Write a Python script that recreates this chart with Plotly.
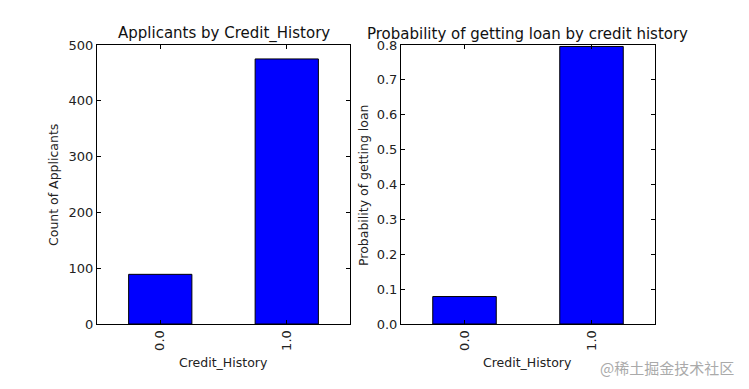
import plotly.graph_objects as go

categories = ["0.0", "1.0"]
applicant_counts = [89, 475]
loan_probability = [0.0787, 0.7958]
left_yticks = [0, 100, 200, 300, 400, 500]
right_yticks = [0.0, 0.1, 0.2, 0.3, 0.4, 0.5, 0.6, 0.7, 0.8]

W, H = 749, 389
OFF = 8  # default body margin of the page
FONT = "DejaVu Sans"
xpos = list(range(len(categories)))

fig = go.Figure()
bar_style = dict(marker=dict(color="#0000ff", line=dict(color="black", width=1)), width=0.5, showlegend=False)
fig.add_trace(go.Bar(x=xpos, y=applicant_counts, xaxis="x", yaxis="y", **bar_style))
fig.add_trace(go.Bar(x=xpos, y=loan_probability, xaxis="x2", yaxis="y2", **bar_style))

def px(x): return (x - OFF) / W
def py(y): return (H - (y - OFF)) / H

axis_common = dict(showline=True, linecolor="black", linewidth=1, mirror="ticks",
                   ticks="inside", ticklen=4, tickcolor="black", showgrid=False, zeroline=False,
                   automargin=False, tickfont=dict(family=FONT, size=13, color="#222"))

xcommon = dict(axis_common, range=[-0.5, 1.5], tickvals=xpos, ticktext=categories, tickangle=-90)

lab = dict(family=FONT, size=12.5, color="#222")
ttl = dict(family=FONT, size=15, color="#111")

fig.update_layout(
    width=W, height=H, margin=dict(l=0, r=0, t=0, b=0, autoexpand=False),
    paper_bgcolor="white", plot_bgcolor="white",
    xaxis=dict(xcommon, domain=[px(97), px(350)], anchor="y"),
    yaxis=dict(axis_common, domain=[py(324), py(45)], range=[0, 500], tickvals=left_yticks, anchor="x"),
    xaxis2=dict(xcommon, domain=[px(401), px(655)], anchor="y2"),
    yaxis2=dict(axis_common, domain=[py(324), py(45)], range=[0, 0.8], tickvals=right_yticks,
                tickformat=".1f", anchor="x2"),
    annotations=[
        dict(text="Applicants by Credit_History", x=px(223.5), y=py(34), xref="paper", yref="paper",
             showarrow=False, font=ttl, xanchor="center", yanchor="middle"),
        dict(text="Probability of getting loan by credit history", x=px(527), y=py(34), xref="paper", yref="paper",
             showarrow=False, font=ttl, xanchor="center", yanchor="middle"),
        dict(text="Credit_History", x=px(223.5), y=py(362), xref="paper", yref="paper",
             showarrow=False, font=lab, xanchor="center", yanchor="middle"),
        dict(text="Credit_History", x=px(527), y=py(362), xref="paper", yref="paper",
             showarrow=False, font=lab, xanchor="center", yanchor="middle"),
        dict(text="Count of Applicants", x=px(53), y=py(185), xref="paper", yref="paper", textangle=-90,
             showarrow=False, font=lab, xanchor="center", yanchor="middle"),
        dict(text="Probability of getting loan", x=px(363), y=py(185), xref="paper", yref="paper", textangle=-90,
             showarrow=False, font=lab, xanchor="center", yanchor="middle"),
        dict(text="@稀土掘金技术社区", x=px(736), y=py(367), xref="paper", yref="paper",
             showarrow=False, font=dict(family="Noto Sans CJK SC", size=15, color="#aaaaaa"),
             xanchor="right", yanchor="middle"),
    ],
)

fig.write_html("out.html")
